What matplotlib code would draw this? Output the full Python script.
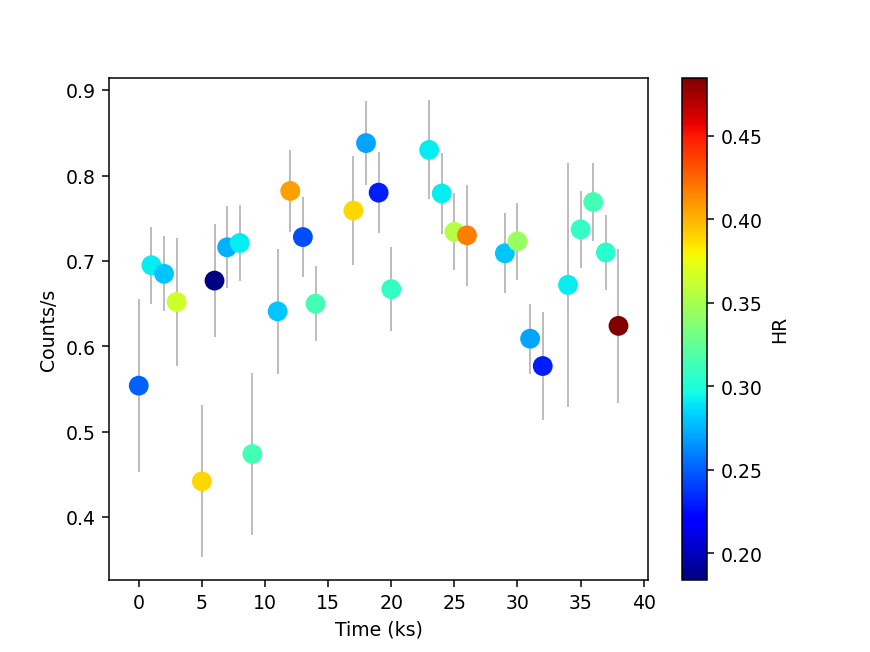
#!/usr/bin/env python3
"""Light curve with hardness ratio colouring.

Creates out.png
"""

import matplotlib
matplotlib.use("Agg")
import matplotlib.pyplot as plt

# time bins (ks)
time_ks = [0, 1, 2, 3, 5, 6, 7, 8, 9, 11, 12, 13, 14, 17, 18, 19, 20,
           23, 24, 25, 26, 29, 30, 31, 32, 34, 35, 36, 37, 38]
time_err = [0.43] * len(time_ks)

counts = [0.554, 0.695, 0.685, 0.652, 0.442, 0.677, 0.716, 0.721, 0.474, 0.641,
          0.782, 0.728, 0.650, 0.759, 0.838, 0.780, 0.667, 0.830, 0.779, 0.734,
          0.730, 0.709, 0.723, 0.609, 0.577, 0.672, 0.737, 0.769, 0.710, 0.624]

counts_err = [0.101, 0.045, 0.044, 0.075, 0.089, 0.066, 0.048, 0.045, 0.095, 0.073,
              0.048, 0.047, 0.044, 0.064, 0.049, 0.047, 0.049, 0.058, 0.047, 0.045,
              0.059, 0.047, 0.045, 0.041, 0.063, 0.143, 0.045, 0.046, 0.044, 0.090]

hr = [0.250, 0.291, 0.280, 0.364, 0.389, 0.184, 0.274, 0.291, 0.314, 0.280,
      0.407, 0.244, 0.314, 0.389, 0.270, 0.231, 0.308, 0.291, 0.291, 0.355,
      0.417, 0.280, 0.344, 0.270, 0.231, 0.291, 0.308, 0.314, 0.304, 0.485]


def output_graph(output_name):
    fig, ax = plt.subplots(figsize=(6.4, 4.8), dpi=136)

    ax.errorbar(time_ks, counts, xerr=time_err, yerr=counts_err, fmt='none',
                ecolor='#a8a8a8', elinewidth=0.8, zorder=1)
    sc = ax.scatter(time_ks, counts, c=hr, cmap='jet', s=90, zorder=2)

    cbar = fig.colorbar(sc, ax=ax)
    cbar.set_label("HR")

    ax.set_xlabel("Time (ks)")
    ax.set_ylabel("Counts/s")

    fig.savefig(output_name, dpi=136)
    plt.close(fig)


if __name__ == "__main__":
    output_graph("out.png")
